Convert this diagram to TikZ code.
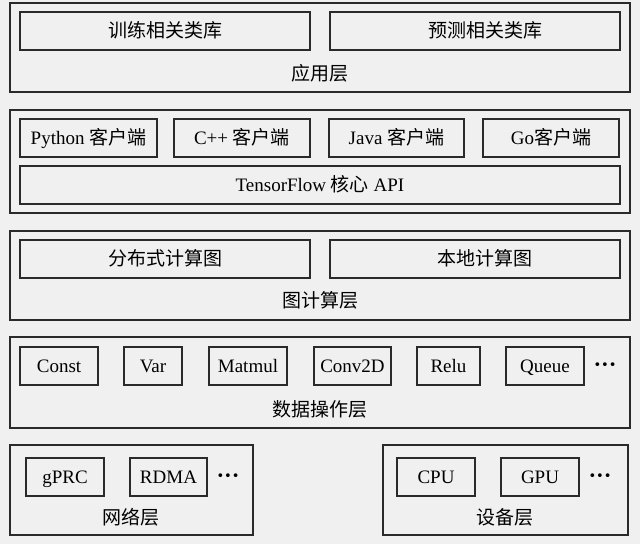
\documentclass[tikz,border=0pt]{standalone}
\usepackage{fontspec}
\setmainfont{Liberation Serif}
\newfontfamily\cjk{Noto Sans CJK SC}
\newfontfamily\symfont{DejaVu Sans}
\definecolor{bgcol}{HTML}{F0F0F0}
\definecolor{linecol}{HTML}{2A2A2A}
\begin{document}
\begin{tikzpicture}[x=1pt,y=-1pt,
  layerbox/.style={draw=linecol,line width=1.5pt,inner sep=0pt,minimum height=89pt},
  itembox/.style={draw=linecol,line width=1.2pt,inner sep=0pt,minimum height=38pt,
    text height=14pt,text depth=1pt,
    font=\fontsize{19}{22}\selectfont},
  layerlabel/.style={inner sep=0pt,text height=14pt,text depth=1pt,
    font=\fontsize{19}{22}\selectfont\cjk},
  moredots/.style={inner sep=0pt,font=\fontsize{13}{14}\selectfont\symfont}]
\fill[bgcol] (0,0) rectangle (640,544);
\useasboundingbox (0,0) rectangle (640,544);

% Application layer
\node[layerbox,minimum width=620pt] (L1) at (320,47.5) {};
\node[itembox,minimum width=290pt] (train) at (165,31) {\cjk 训练相关类库};
\node[itembox,minimum width=290pt] (pred) at (475,31) {\hspace*{20pt}\cjk 预测相关类库};
\node[layerlabel] (L1t) at (320,74) {应用层};

% Client / API layer
\node[layerbox,minimum width=620pt,minimum height=103pt] (L2) at (320,161.5) {};
\node[itembox,minimum width=137pt] (py) at (88.5,138) {Python {\cjk 客户端}};
\node[itembox,minimum width=136pt] (cpp) at (242,138) {C++ {\cjk 客户端}};
\node[itembox,minimum width=135pt] (java) at (396.5,138) {Java {\cjk 客户端}};
\node[itembox,minimum width=136pt] (go) at (551,138) {Go{\cjk 客户端}};
\node[itembox,minimum width=600pt] (api) at (320,185) {TensorFlow {\cjk 核心} API};

% Graph computation layer
\node[layerbox,minimum width=620pt] (L3) at (320,275.5) {};
\node[itembox,minimum width=290pt] (dist) at (165,259) {\cjk 分布式计算图};
\node[itembox,minimum width=290pt] (local) at (475,259) {\hspace*{20pt}\cjk 本地计算图};
\node[layerlabel] (L3t) at (320,301) {图计算层};

% Data operation layer
\node[layerbox,minimum width=620pt,minimum height=91pt] (L4) at (320,382.5) {};
\node[itembox,minimum width=78pt] (const) at (59,366) {Const};
\node[itembox,minimum width=58pt] (var) at (153,366) {Var};
\node[itembox,minimum width=78pt] (matmul) at (248,366) {Matmul};
\node[itembox,minimum width=77pt] (conv) at (352.5,366) {Conv2D};
\node[itembox,minimum width=63pt] (relu) at (448.5,366) {Relu};
\node[itembox,minimum width=78pt] (queue) at (545,366) {Queue};
\node[moredots] (d4) at (605,366) {•••};
\node[layerlabel] (L4t) at (320,410) {数据操作层};

% Network layer
\node[layerbox,minimum width=243pt,minimum height=90pt] (L5a) at (131.5,490) {};
\node[itembox,minimum width=78pt] (grpc) at (65,477) {gPRC};
\node[itembox,minimum width=77pt] (rdma) at (168.5,477) {RDMA};
\node[moredots] (d5a) at (228,477) {•••};
\node[layerlabel] (L5at) at (131,518) {网络层};

% Device layer
\node[layerbox,minimum width=245pt,minimum height=90pt] (L5b) at (505.5,490) {};
\node[itembox,minimum width=78pt] (cpu) at (436,477) {CPU};
\node[itembox,minimum width=78pt] (gpu) at (540,477) {GPU};
\node[moredots] (d5b) at (600,477) {•••};
\node[layerlabel] (L5bt) at (505,518) {设备层};
\end{tikzpicture}
\end{document}
